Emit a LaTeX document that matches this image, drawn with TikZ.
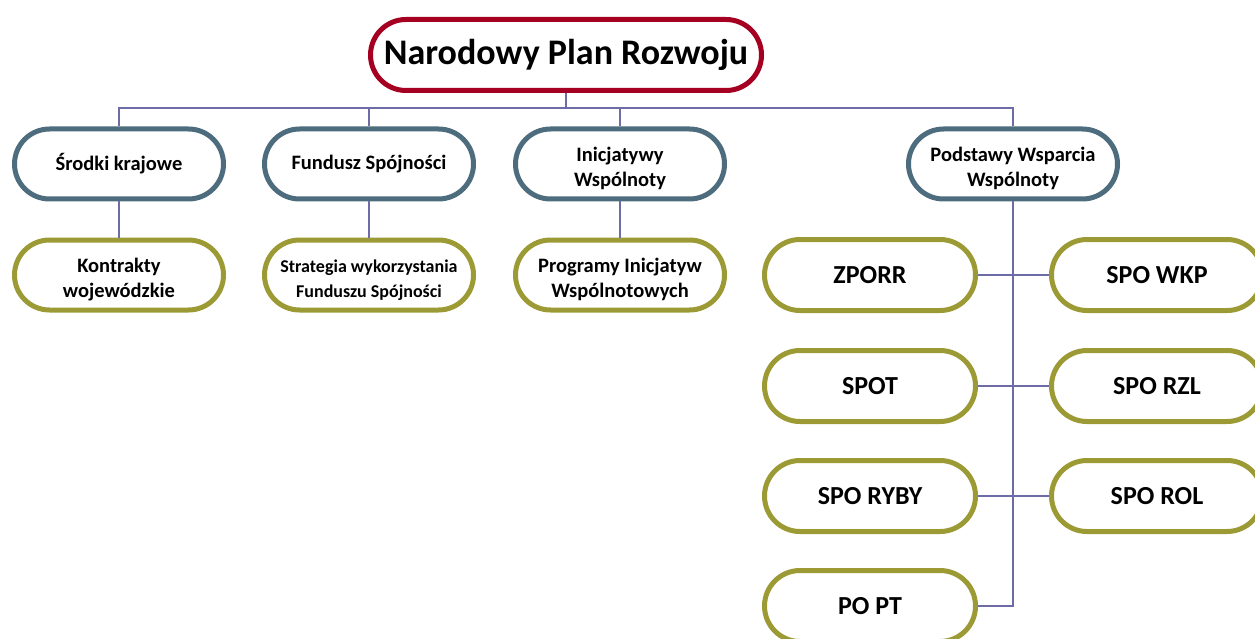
\documentclass[tikz,border=0pt]{standalone}
\usepackage{fontspec}
\setmainfont{Carlito}
\usetikzlibrary{shapes.misc}
\definecolor{cred}{HTML}{A50021}
\definecolor{cblue}{HTML}{4D6C7E}
\definecolor{colive}{HTML}{9C9A34}
\definecolor{cline}{HTML}{6E6CA6}
\newcommand\tlift{\rule{0pt}{24pt}}
\tikzset{
  pill/.style={rounded rectangle, draw, line width=5pt, fill=white, align=center,
    minimum width=213pt, minimum height=70pt, inner sep=2pt},
  topbox/.style={pill, draw=cred, minimum width=395pt, minimum height=71pt,
    font=\bfseries\fontsize{36}{40}\selectfont},
  midbox/.style={pill, draw=cblue, font=\bfseries\fontsize{20.5}{25}\selectfont},
  lowbox/.style={pill, draw=colive, font=\bfseries\fontsize{20.5}{25}\selectfont},
  bigbox/.style={pill, draw=colive, minimum width=215pt, minimum height=71pt,
    font=\bfseries\fontsize{26}{30}\selectfont},
  conn/.style={draw=cline, line width=1.6pt}
}
\begin{document}
\begin{tikzpicture}[x=1pt,y=-1pt]
\useasboundingbox (0,0) rectangle (1255,639);
\node[topbox] (npr) at (566,55) {Narodowy Plan Rozwoju};
\node[midbox] (sk) at (119,164) {Środki krajowe};
\node[midbox] (fs) at (369,164) {Fundusz Spójności};
\node[midbox] (iw) at (620,164) {\tlift Inicjatywy\\Wspólnoty};
\node[midbox] (pw) at (1013,164) {\tlift Podstawy Wsparcia\\Wspólnoty};
\node[lowbox] (kw) at (119,275) {\tlift Kontrakty\\wojewódzkie};
\node[lowbox, font=\bfseries\fontsize{18}{25}\selectfont] (sw) at (369,275) {\tlift Strategia wykorzystania\\Funduszu Spójności};
\node[lowbox] (pi) at (620,275) {\tlift Programy Inicjatyw\\Wspólnotowych};
\node[bigbox] (zporr) at (870,275) {ZPORR};
\node[bigbox] (wkp) at (1157,275) {SPO WKP};
\node[bigbox] (spot) at (870,386) {SPOT};
\node[bigbox] (rzl) at (1157,386) {SPO RZL};
\node[bigbox] (ryby) at (870,496) {SPO RYBY};
\node[bigbox] (rol) at (1157,496) {SPO ROL};
\node[bigbox] (popt) at (870,606) {PO PT};
\coordinate (bus) at (566,108);
\draw[conn] (npr.south) -- (bus);
\draw[conn] (sk.north) -- (sk.north |- bus) -- (pw.north |- bus) -- (pw.north);
\draw[conn] (fs.north) -- (fs.north |- bus);
\draw[conn] (iw.north) -- (iw.north |- bus);
\draw[conn] (sk.south) -- (kw.north);
\draw[conn] (fs.south) -- (sw.north);
\draw[conn] (iw.south) -- (pi.north);
\draw[conn] (pw.south) |- (popt.east);
\draw[conn] (zporr.east) -- (wkp.west);
\draw[conn] (spot.east) -- (rzl.west);
\draw[conn] (ryby.east) -- (rol.west);
\end{tikzpicture}
\end{document}
